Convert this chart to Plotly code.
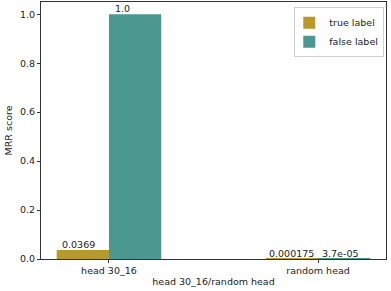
import plotly.graph_objects as go

categories = ["head 30_16", "random head"]
true_vals = [0.0369, 0.000175]
false_vals = [1.0, 3.7e-05]
true_labels = ["0.0369", "0.000175"]
false_labels = ["1.0", "3.7e-05"]
y_ticks = [0.0, 0.2, 0.4, 0.6, 0.8, 1.0]

GOLD = "#b8992b"
TEAL = "#4c9891"
FONT = "DejaVu Sans"
FS = 9.5

fig = go.Figure()
fig.add_trace(go.Bar(x=categories, y=true_vals, name="true label",
                     marker=dict(color=GOLD, line=dict(width=0))))
fig.add_trace(go.Bar(x=categories, y=false_vals, name="false label",
                     marker=dict(color=TEAL, line=dict(width=0))))

shifts_true = [-4, 0]
shifts_false = [-13, -4]
for i, cat in enumerate(categories):
    fig.add_annotation(x=i - 0.125, y=true_vals[i], text=true_labels[i], showarrow=False,
                       yanchor="bottom", xanchor="center", xshift=shifts_true[i], yshift=-2,
                       font=dict(family=FONT, size=FS, color="#222"))
    fig.add_annotation(x=i + 0.125, y=false_vals[i], text=false_labels[i], showarrow=False,
                       yanchor="bottom", xanchor="center", xshift=shifts_false[i], yshift=-2,
                       font=dict(family=FONT, size=FS, color="#222"))

fig.update_layout(
    width=391, height=291,
    margin=dict(l=41, r=5, t=2, b=32),
    paper_bgcolor="white", plot_bgcolor="white",
    barmode="group", bargap=0.5, bargroupgap=0,
    font=dict(family=FONT, size=FS, color="#222"),
    legend=dict(x=0.995, y=0.98, xanchor="right", yanchor="top",
                bordercolor="#d0d0d0", borderwidth=1, bgcolor="white",
                font=dict(family=FONT, size=FS), itemwidth=30, tracegroupgap=0,
                indentation=-6),
    showlegend=True,
)
fig.update_xaxes(range=[-0.325, 1.325], showline=True, linecolor="#333", linewidth=1,
                 mirror=True, ticks="outside", ticklen=3, tickcolor="#333",
                 showgrid=False, zeroline=False,
                 title=dict(text="head 30_16/random head", standoff=2,
                            font=dict(family=FONT, size=FS)))
fig.update_yaxes(range=[0, 1.05], tickvals=y_ticks, tickformat=".1f",
                 showline=True, linecolor="#333", linewidth=1, mirror=True,
                 ticks="outside", ticklen=3, tickcolor="#333",
                 showgrid=False, zeroline=False,
                 title=dict(text="MRR score", standoff=5,
                            font=dict(family=FONT, size=FS)))

fig.write_html("out.html", config={"displayModeBar": False},
               post_script="document.body.style.margin='0';")
